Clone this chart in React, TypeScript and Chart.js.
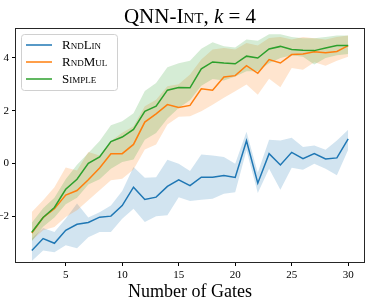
import React, { useEffect, useRef } from "react";
import { Chart, registerables } from "chart.js";

Chart.register(...registerables);

// ---- data ----
const gates = [2, 3, 4, 5, 6, 7, 8, 9, 10, 11, 12, 13, 14, 15, 16, 17, 18, 19, 20, 21, 22, 23, 24, 25, 26, 27, 28, 29, 30];

const rndLinMean = [-3.3, -2.85, -3.03, -2.54, -2.31, -2.24, -2.04, -2.0, -1.6, -0.9, -1.37, -1.28, -0.87, -0.62, -0.84, -0.52, -0.52, -0.46, -0.53, 0.86, -0.75, 0.37, -0.06, 0.42, 0.18, 0.37, 0.17, 0.21, 0.93];
const rndLinLow = [-3.7, -3.3, -3.37, -3.1, -3.22, -2.8, -2.6, -2.6, -2.1, -1.72, -2.22, -2.0, -1.97, -1.28, -1.43, -1.38, -1.34, -1.15, -1.09, 0.5, -1.12, -0.2, -1.0, -0.16, -0.24, -0.01, -0.2, -0.45, 0.52];
const rndLinHigh = [-2.85, -2.45, -2.6, -2.1, -1.52, -2.05, -1.85, -1.6, -1.05, -0.14, -0.54, -0.52, 0.14, -0.01, -0.29, 0.34, 0.3, 0.24, -0.01, 1.2, -0.35, 0.9, 0.87, 0.97, 0.62, 0.68, 0.52, 0.87, 1.28];

const rndMulMean = [-2.64, -2.05, -1.72, -1.2, -1.03, -0.62, -0.17, 0.37, 0.37, 0.72, 1.57, 1.88, 2.23, 2.12, 2.2, 2.83, 2.78, 3.28, 3.33, 3.71, 3.42, 3.94, 3.81, 4.13, 4.15, 4.24, 4.2, 4.25, 4.47];
const rndMulLow = [-2.92, -2.54, -2.41, -2.03, -1.78, -1.4, -1.02, -0.64, -0.58, -0.23, 0.53, 0.72, 1.48, 1.77, 1.79, 1.98, 2.23, 2.49, 2.74, 2.99, 2.61, 3.21, 2.89, 3.62, 3.55, 3.84, 3.71, 3.9, 4.05];
const rndMulHigh = [-1.84, -1.4, -0.9, -0.15, -0.27, 0.43, 0.3, 0.85, 1.16, 1.41, 2.17, 2.42, 2.93, 3.0, 3.37, 3.94, 4.32, 4.38, 4.32, 4.57, 4.47, 4.76, 4.8, 4.7, 4.8, 4.75, 4.7, 4.8, 4.85];

const simpleMean = [-2.61, -2.05, -1.67, -0.98, -0.6, 0.0, 0.25, 0.83, 1.0, 1.29, 1.98, 2.17, 2.78, 2.88, 2.87, 3.59, 3.85, 3.81, 3.78, 4.07, 4.0, 4.34, 4.44, 4.32, 4.29, 4.28, 4.38, 4.47, 4.47];
const simpleLow = [-2.95, -2.4, -2.05, -1.55, -1.3, -0.8, -0.6, -0.2, 0.05, 0.15, 0.9, 1.15, 1.7, 2.1, 2.4, 2.95, 3.2, 3.15, 3.3, 3.5, 3.5, 3.8, 4.0, 4.1, 4.05, 3.75, 4.0, 4.1, 4.15];
const simpleHigh = [-2.25, -1.7, -1.3, -0.6, -0.05, 0.4, 0.85, 1.45, 1.6, 1.9, 2.75, 3.05, 3.65, 3.8, 3.9, 4.35, 4.6, 4.45, 4.4, 4.7, 4.65, 4.9, 4.9, 4.8, 4.75, 4.75, 4.8, 4.85, 4.85];

const xTicks = [5, 10, 15, 20, 25, 30];
const yTicks = [-2, 0, 2, 4];
const legendLabels = ["RndLin", "RndMul", "Simple"];
const titleMain = "QNN-Int, ";
const titleVar = "k";
const titleTail = " = 4";
const xAxisLabel = "Number of Gates";

// ---- styling ----
const FAMILY = "'Liberation Serif', 'DejaVu Serif', serif";
const COLORS = ["#1f77b4", "#ff7f0e", "#2ca02c"];
const FILLS = ["rgba(31,119,180,0.2)", "rgba(255,127,14,0.2)", "rgba(44,160,44,0.2)"];

const series = [
  { label: legendLabels[0], mean: rndLinMean, lo: rndLinLow, hi: rndLinHigh },
  { label: legendLabels[1], mean: rndMulMean, lo: rndMulLow, hi: rndMulHigh },
  { label: legendLabels[2], mean: simpleMean, lo: simpleLow, hi: simpleHigh },
];

const toXY = (ys: number[]) => gates.map((g, i) => ({ x: g, y: ys[i] }));

const overlayPlugin = {
  id: "overlay",
  afterDraw(chart: any) {
    const ctx: CanvasRenderingContext2D = chart.ctx;
    const { left, top, right, bottom } = chart.chartArea;
    ctx.save();
    // frame (all four spines)
    ctx.strokeStyle = "#262626";
    ctx.lineWidth = 1;
    ctx.strokeRect(Math.round(left) - 0.5, Math.round(top) - 0.5, Math.round(right - left) + 1, Math.round(bottom - top) + 1);

    // title
    const size = 21;
    const fMain = `small-caps ${size}px ${FAMILY}`;
    const fVar = `italic ${size}px ${FAMILY}`;
    const fTail = `${size}px ${FAMILY}`;
    ctx.fillStyle = "#000";
    ctx.textBaseline = "alphabetic";
    ctx.textAlign = "left";
    ctx.font = fMain;
    const w1 = ctx.measureText(titleMain).width;
    ctx.font = fVar;
    const w2 = ctx.measureText(titleVar).width;
    ctx.font = fTail;
    const w3 = ctx.measureText(titleTail).width;
    let x = (left + right) / 2 - (w1 + w2 + w3) / 2;
    const by = 23;
    ctx.font = fMain;
    ctx.fillText(titleMain, x, by);
    x += w1;
    ctx.font = fVar;
    ctx.fillText(titleVar, x, by);
    x += w2;
    ctx.font = fTail;
    ctx.fillText(titleTail, x, by);

    // legend
    const bx = 21.5, byy = 34.5, bw = 96, bh = 56;
    ctx.beginPath();
    ctx.roundRect(bx, byy, bw, bh, 3);
    ctx.fillStyle = "rgba(255,255,255,0.8)";
    ctx.fill();
    ctx.strokeStyle = "#d0d0d0";
    ctx.lineWidth = 1;
    ctx.stroke();
    const rows = [45, 62, 79];
    ctx.font = `small-caps 13px ${FAMILY}`;
    ctx.textBaseline = "middle";
    series.forEach((s, i) => {
      ctx.beginPath();
      ctx.moveTo(26, rows[i]);
      ctx.lineTo(52, rows[i]);
      ctx.strokeStyle = COLORS[i];
      ctx.lineWidth = 1.5;
      ctx.stroke();
      ctx.fillStyle = "#000";
      ctx.fillText(s.label, 62, rows[i] + 1);
    });
    ctx.restore();
  },
};

export default function App() {
  const ref = useRef<HTMLCanvasElement | null>(null);
  useEffect(() => {
    if (!ref.current) return;
    const datasets: any[] = [];
    series.forEach((s, k) => {
      datasets.push({
        label: s.label,
        data: toXY(s.mean),
        borderColor: COLORS[k],
        borderWidth: 1.5,
        pointRadius: 0,
        fill: false,
        tension: 0,
        order: 2 - k,
      });
    });
    series.forEach((s, k) => {
      const upIdx = datasets.length;
      datasets.push({
        label: s.label + " hi",
        data: toXY(s.hi),
        borderColor: "rgba(0,0,0,0)",
        borderWidth: 0.01,
        pointRadius: 0,
        fill: false,
        order: 5 - k,
      });
      datasets.push({
        label: s.label + " lo",
        data: toXY(s.lo),
        borderColor: "rgba(0,0,0,0)",
        borderWidth: 0.01,
        pointRadius: 0,
        backgroundColor: FILLS[k],
        fill: { target: upIdx },
        order: 5 - k,
      });
    });

    const tickFont = { family: FAMILY, size: 11 };
    const chart = new Chart(ref.current, {
      type: "line",
      data: { datasets },
      plugins: [overlayPlugin],
      options: {
        animation: false,
        responsive: false,
        layout: { padding: { left: 0, right: 10, top: 29, bottom: 0 } },
        plugins: {
          legend: { display: false },
          title: { display: false },
          tooltip: { enabled: false },
          filler: { propagate: false, drawTime: "beforeDatasetsDraw" },
        },
        scales: {
          x: {
            type: "linear",
            min: 0.6,
            max: 31.4,
            afterBuildTicks: (s: any) => {
              s.ticks = xTicks.map((v) => ({ value: v }));
            },
            afterFit: (s: any) => {
              s.height = 42;
            },
            ticks: {
              font: tickFont,
              color: "#000",
              padding: 3,
              maxRotation: 0,
              autoSkip: false,
              callback: (v: any) => String(v),
            },
            grid: { drawOnChartArea: false, drawTicks: true, tickLength: 4, color: "#000" },
            border: { display: false },
            title: {
              display: true,
              text: xAxisLabel,
              font: { family: FAMILY, size: 18 },
              color: "#000",
              padding: { top: 0, bottom: 1 },
            },
          },
          y: {
            type: "linear",
            min: -3.74,
            max: 5.1,
            afterBuildTicks: (s: any) => {
              s.ticks = yTicks.map((v) => ({ value: v }));
            },
            afterFit: (s: any) => {
              s.width = 16;
            },
            ticks: {
              font: tickFont,
              color: "#000",
              padding: 3,
              autoSkip: false,
              callback: (v: any) => (v < 0 ? "\u2212" + Math.abs(v) : String(v)),
            },
            grid: { drawOnChartArea: false, drawTicks: true, tickLength: 4, color: "#000" },
            border: { display: false },
          },
        },
      } as any,
    });
    return () => chart.destroy();
  }, []);

  return (
    <div style={{ position: "fixed", left: 0, top: 0, width: 374, height: 304, background: "#fff" }}>
      <canvas ref={ref} width={374} height={304} style={{ width: 374, height: 304, display: "block" }} />
    </div>
  );
}
